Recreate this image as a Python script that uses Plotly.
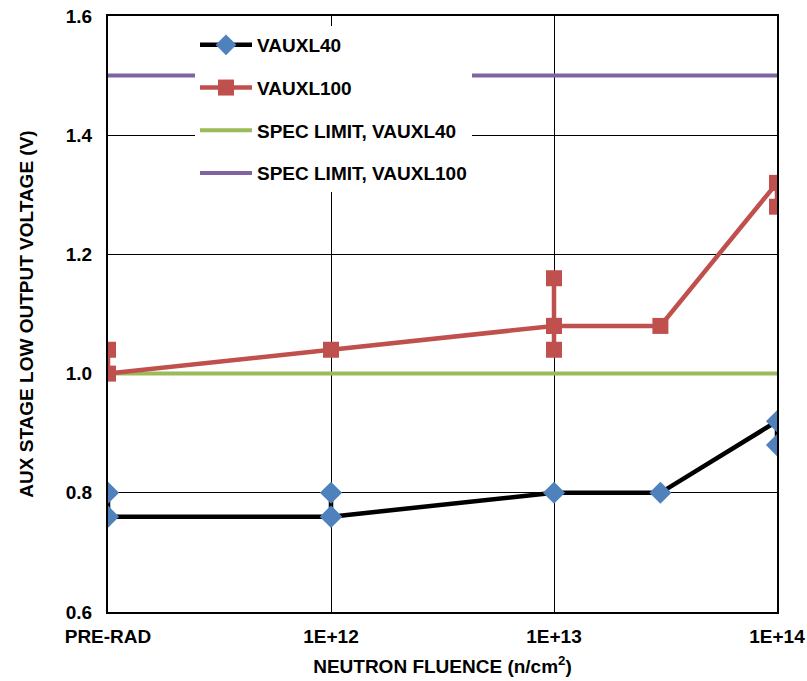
import plotly.graph_objects as go

# Data
tick_vals = [1e11, 1e12, 1e13, 1e14]
tick_text = ["PRE-RAD", "1E+12", "1E+13", "1E+14"]

vauxl40_x = [1e11, 1e11, 1e12, 1e12, 1e12, 1e13, 3e13, 1e14, 1e14]
vauxl40_y = [0.80, 0.76, 0.76, 0.80, 0.76, 0.80, 0.80, 0.92, 0.88]

vauxl100_x = [1e11, 1e11, 1e12, 1e13, 1e13, 1e13, 1e13, 3e13, 1e14, 1e14]
vauxl100_y = [1.04, 1.00, 1.04, 1.08, 1.16, 1.04, 1.08, 1.08, 1.32, 1.28]

spec40_x = [1e11, 1e14]
spec40_y = [1.0, 1.0]
spec100_x = [1e11, 1e14]
spec100_y = [1.5, 1.5]

FONT = "Liberation Sans, Arial, sans-serif"
FS = 19

fig = go.Figure()
fig.add_trace(go.Scatter(
    x=spec40_x, y=spec40_y, mode="lines", name="SPEC LIMIT, VAUXL40",
    legendgroup="c", legendrank=3,
    line=dict(color="#9BBB59", width=4),
))
fig.add_trace(go.Scatter(
    x=spec100_x, y=spec100_y, mode="lines", name="SPEC LIMIT, VAUXL100",
    legendgroup="d", legendrank=4,
    line=dict(color="#8064A2", width=4),
))
fig.add_trace(go.Scatter(
    x=vauxl40_x, y=vauxl40_y, mode="lines+markers", name="VAUXL40",
    legendgroup="a", legendrank=1,
    line=dict(color="black", width=4.5),
    marker=dict(symbol="diamond", size=17, color="#4F81BD"),
))
fig.add_trace(go.Scatter(
    x=vauxl100_x, y=vauxl100_y, mode="lines+markers", name="VAUXL100",
    legendgroup="b", legendrank=2,
    line=dict(color="#C0504D", width=4.5),
    marker=dict(symbol="square", size=16, color="#C0504D"),
))

fig.update_layout(
    width=807, height=681,
    margin=dict(l=108, r=30, t=16, b=69),
    paper_bgcolor="white", plot_bgcolor="white",
    font=dict(family=FONT, size=FS, color="black", weight="bold"),
    legend=dict(
        x=(195 - 108) / 669, y=1 - (26 - 16) / 596,
        xanchor="left", yanchor="top",
        bgcolor="white",
        font=dict(family=FONT, size=FS, color="black", weight="bold"),
        tracegroupgap=15,
        traceorder="grouped",
        itemwidth=52,
    ),
    xaxis=dict(
        type="log", range=[11, 14],
        tickvals=tick_vals, ticktext=tick_text,
        showgrid=True, gridcolor="black", gridwidth=1,
        showline=True, linecolor="black", linewidth=2, mirror=True,
        ticks="", zeroline=False, automargin=False,
        ticklabelstandoff=6,
        tickfont=dict(family=FONT, size=FS, weight="bold"),
        title=dict(text="NEUTRON FLUENCE (n/cm<sup>2</sup>)", standoff=14,
                   font=dict(family=FONT, size=FS, weight="bold")),
    ),
    yaxis=dict(
        range=[0.6, 1.6], dtick=0.2, tick0=0.6, tickformat=".1f",
        showgrid=True, gridcolor="black", gridwidth=1,
        showline=True, linecolor="black", linewidth=2, mirror=True,
        ticks="", zeroline=False, automargin=False,
        ticklabelstandoff=10,
        tickfont=dict(family=FONT, size=FS, weight="bold"),
        title=dict(text="AUX STAGE LOW OUTPUT VOLTAGE (V)", standoff=27,
                   font=dict(family=FONT, size=FS, weight="bold")),
    ),
)

fig.write_html("out.html", config={"displayModeBar": False},
               post_script="document.body.style.margin='0';")
